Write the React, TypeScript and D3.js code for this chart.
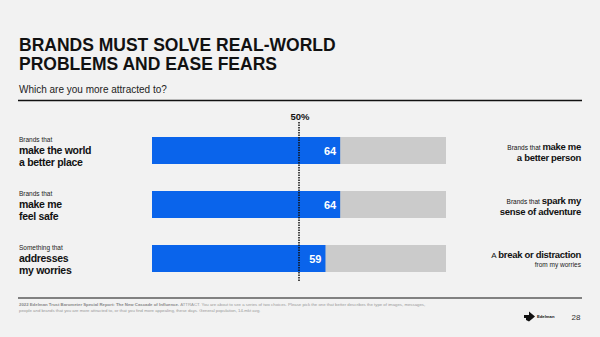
import React from "react";
import * as d3 from "d3";

const categories = ["row1", "row2", "row3"];
const values = [64, 64, 59];
const leftSmall = ["Brands that", "Brands that", "Something that"];
const leftBold1 = ["make the world", "make me", "addresses"];
const leftBold2 = ["a better place", "feel safe", "my worries"];
const rightLead = ["Brands that ", "Brands that ", "A "];
const rightBold1 = ["make me", "spark my", "break or distraction"];
const rightLine2 = ["a better person", "sense of adventure", "from my worries"];
const refValue = 50;
const refLabel = "50%";

const W = 600;
const H = 337;
const FONT = "'Liberation Sans', Arial, Helvetica, sans-serif";
const BLUE = "#0a64eb";
const GREY = "#cbcbcb";
const BG = "#f2f2f2";

export default function App() {
  const x = d3.scaleLinear().domain([0, 100]).range([152, 446]);
  const y = d3.scaleBand<string>().domain(categories).range([137, 272]).paddingInner(0.5).paddingOuter(0);
  const barH = y.bandwidth();

  return (
    <div style={{ position: "fixed", left: 0, top: 0, width: W, height: H, margin: 0 }}>
      <svg width={W} height={H} style={{ display: "block", background: BG }} fontFamily={FONT}>
        <rect width={W} height={H} fill={BG} />
        <text x={19} y={51} fontSize={17.5} fontWeight={700} fill="#111">BRANDS MUST SOLVE REAL-WORLD</text>
        <text x={19} y={70} fontSize={17.5} fontWeight={700} fill="#111">PROBLEMS AND EASE FEARS</text>
        <text x={19} y={93} fontSize={10} fill="#222">Which are you more attracted to?</text>
        <line x1={18} x2={582} y1={100.5} y2={100.5} stroke="#111" strokeWidth={1.5} />

        {categories.map((c, i) => {
          const top = y(c) as number;
          const v = values[i];
          const last = i === 2;
          return (
            <g key={c}>
              <rect x={x(0)} y={top} width={x(100) - x(0)} height={barH} fill={GREY} />
              <rect x={x(0)} y={top} width={x(v) - x(0)} height={barH} fill={BLUE} />
              <text x={x(v) - 4} y={top + barH / 2 + 4} textAnchor="end" fontSize={11} fontWeight={700} fill="#fff">{v}</text>
              <text x={19} y={top + 5} fontSize={6.5} fill="#222">{leftSmall[i]}</text>
              <text x={19} y={top + 17} fontSize={10.5} letterSpacing={-0.3} fontWeight={700} fill="#111">{leftBold1[i]}</text>
              <text x={19} y={top + 29} fontSize={10.5} letterSpacing={-0.3} fontWeight={700} fill="#111">{leftBold2[i]}</text>
              <text x={581} y={top + 13} textAnchor="end" fill="#111">
                <tspan fontSize={last ? 8 : 6.5}>{rightLead[i]}</tspan>
                <tspan fontSize={9.5} letterSpacing={-0.3} fontWeight={700}>{rightBold1[i]}</tspan>
              </text>
              {last ? (
                <text x={581} y={top + 22} textAnchor="end" fontSize={6.5} fill="#222">{rightLine2[i]}</text>
              ) : (
                <text x={581} y={top + 24} textAnchor="end" fontSize={9.5} letterSpacing={-0.3} fontWeight={700} fill="#111">{rightLine2[i]}</text>
              )}
            </g>
          );
        })}

        {/* reference line */}
        <text x={x(refValue) + 1} y={119.5} textAnchor="middle" fontSize={9.5} fontWeight={700} fill="#111">{refLabel}</text>
        <line x1={x(refValue)} x2={x(refValue)} y1={122} y2={282} stroke="#111" strokeWidth={1.5} strokeDasharray="1.5 1" />

        {/* footer */}
        <line x1={18} x2={582} y1={298} y2={298} stroke="#111" strokeWidth={1.2} />
        <text x={19} y={306} fontSize={4.3} fill="#999">
          <tspan fontWeight={700} fill="#888">2022 Edelman Trust Barometer Special Report: The New Cascade of Influence. </tspan>
          <tspan>ATTRACT. You are about to see a series of two choices. Please pick the one that better describes the type of images, messages,</tspan>
        </text>
        <text x={19} y={312} fontSize={4.3} fill="#999">people and brands that you are more attracted to, or that you find more appealing, these days. General population, 14-mkt avg.</text>
        <path d="M524,315 L529,315 L529,311.5 L535,316.5 L529,321.5 L529,318 L524,318 Z M529,318 L526,321 Z" fill="#111" />
        <path d="M526,318 L529,318 L529,321.5 L526,320 Z" fill="#111" />
        <text x={537} y={318} fontSize={4.2} fontWeight={700} fill="#111">Edelman</text>
        <text x={576} y={320} textAnchor="middle" fontSize={8} fill="#333">28</text>
      </svg>
    </div>
  );
}
